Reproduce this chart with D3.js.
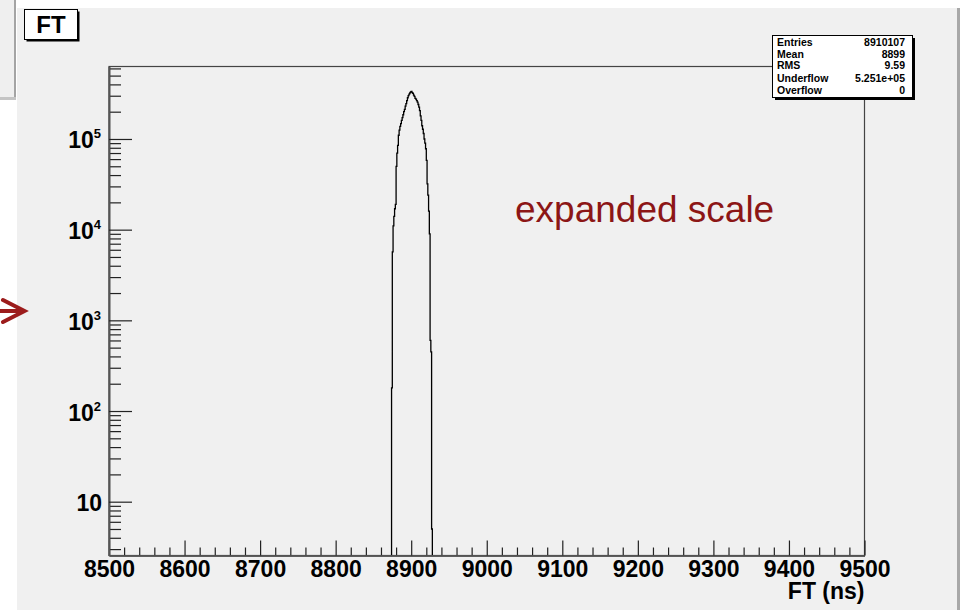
<!DOCTYPE html>
<html>
<head>
<meta charset="utf-8">
<script src="https://d3js.org/d3.v7.min.js"></script>
<title>FT</title>
<style>
  body { margin: 0; background: #fff; }
  svg { display: block; }
  text { font-family: "Liberation Sans", Arial, Helvetica, sans-serif; }
  .axis .tick text { font-weight: bold; font-size: 23px; fill: #000; }
  .axis .domain { stroke: #555; stroke-width: 1.6; }
  .axis .tick line { stroke: #222; stroke-width: 1.2; }
  .stats text { font-size: 10.5px; font-weight: bold; fill: #000; }
</style>
</head>
<body>
<svg width="963" height="610"></svg>
<script>
// histogram bins (1 ns wide)
const binStart = 8874;
const binWidth = 1;
const counts = [
  180, 5700, 11000, 14000, 17000, 19000, 50000, 70000, 85000, 110000,
  125000, 138000, 148000, 160000, 172000, 185000, 200000, 212000, 230000, 245000,
  265000, 285000, 300000, 312000, 322000, 330000, 335000, 325000, 318000, 305000,
  295000, 280000, 275000, 265000, 255000, 240000, 225000, 205000, 180000, 160000,
  140000, 128000, 115000, 100000, 90000, 78000, 58000, 32000, 24000, 16000,
  9000, 600, 450, 5
];

const xDomain = [8500, 9500];
const yDomain = [2.55, 630000];
const xTicks = [8500, 8600, 8700, 8800, 8900, 9000, 9100, 9200, 9300, 9400, 9500];
const yPowers = [1, 2, 3, 4, 5];

const statLabels = ['Entries', 'Mean', 'RMS', 'Underflow', 'Overflow'];
const statValues = ['8910107', '8899', '9.59', '5.251e+05', '0'];

const title = 'FT';
const xTitle = 'FT (ns)';
const note = 'expanded scale';

const frame = { left: 109, right: 864.5, top: 66.5, bottom: 555.5 };

const svg = d3.select('svg');

// page / canvas background
svg.append('rect').attr('x', 0).attr('y', 0).attr('width', 14).attr('height', 97).attr('fill', '#efefef');
svg.append('rect').attr('x', 14).attr('y', 0).attr('width', 2).attr('height', 100).attr('fill', '#a4a4a4');
svg.append('rect').attr('x', 0).attr('y', 97).attr('width', 16).attr('height', 3).attr('fill', '#c4c4c4');
svg.append('rect').attr('x', 17).attr('y', 8).attr('width', 940).attr('height', 602).attr('fill', '#f0f0f0');
svg.append('rect').attr('x', 957).attr('y', 8).attr('width', 3).attr('height', 602).attr('fill', '#a8a8a8');

const x = d3.scaleLinear().domain(xDomain).range([frame.left, frame.right]);
const y = d3.scaleLog().domain(yDomain).range([frame.bottom, frame.top]).clamp(true);

// frame
svg.append('rect')
    .attr('x', frame.left).attr('y', frame.top)
    .attr('width', frame.right - frame.left).attr('height', frame.bottom - frame.top)
    .attr('fill', 'none').attr('stroke', '#444').attr('stroke-width', 1.2);

svg.append('clipPath').attr('id', 'clip')
  .append('rect')
    .attr('x', frame.left).attr('y', frame.top)
    .attr('width', frame.right - frame.left).attr('height', frame.bottom - frame.top);

// histogram outline
const pts = [{ x: binStart, y: 0 }];
counts.forEach((c, i) => {
  const lo = binStart + i * binWidth;
  pts.push({ x: lo, y: c }, { x: lo + binWidth, y: c });
});
pts.push({ x: binStart + counts.length * binWidth, y: 0 });

const line = d3.line()
    .x(d => x(d.x))
    .y(d => y(Math.max(d.y, yDomain[0])));

svg.append('path')
    .datum(pts)
    .attr('clip-path', 'url(#clip)')
    .attr('fill', 'none')
    .attr('stroke', '#000')
    .attr('stroke-width', 1.3)
    .attr('d', line);

// x axis
const xMinor = d3.range(xDomain[0], xDomain[1] + 1, 20).filter(v => v % 100 !== 0);
svg.append('g').attr('class', 'axis')
    .attr('transform', `translate(0,${frame.bottom})`)
    .call(d3.axisBottom(x).tickValues(xMinor).tickSize(-8).tickSizeOuter(0).tickFormat(''));
svg.append('g').attr('class', 'axis')
    .attr('transform', `translate(0,${frame.bottom})`)
    .call(d3.axisBottom(x).tickValues(xTicks).tickSize(-15).tickSizeOuter(0)
      .tickPadding(5).tickFormat(d3.format('d')));

// y axis
const yMinor = [];
for (let p = 0; p <= 5; p++) {
  for (let m = 2; m <= 9; m++) {
    const v = m * Math.pow(10, p);
    if (v >= yDomain[0] && v <= yDomain[1]) yMinor.push(v);
  }
}
svg.append('g').attr('class', 'axis')
    .attr('transform', `translate(${frame.left},0)`)
    .call(d3.axisLeft(y).tickValues(yMinor).tickSize(-12).tickSizeOuter(0).tickFormat(''));
const yAxisG = svg.append('g').attr('class', 'axis')
    .attr('transform', `translate(${frame.left},0)`)
    .call(d3.axisLeft(y).tickValues(yPowers.map(p => Math.pow(10, p))).tickSize(-23)
      .tickSizeOuter(0).tickFormat(''));

yAxisG.selectAll('.tick').each(function (d) {
  const p = Math.round(Math.log10(d));
  const t = d3.select(this).append('text')
      .attr('text-anchor', 'end')
      .attr('x', p === 1 ? -7 : -8)
      .attr('y', 9);
  if (p === 1) {
    t.text('10');
  } else {
    t.append('tspan').text('10');
    t.append('tspan').attr('font-size', '13px').attr('dy', -10).text(p);
  }
});

// axis title
svg.append('text')
    .attr('x', frame.right).attr('y', 599)
    .attr('text-anchor', 'end')
    .attr('font-size', '23px').attr('font-weight', 'bold')
    .text(xTitle);

// title box
svg.append('rect').attr('x', 26.5).attr('y', 11.5).attr('width', 53).attr('height', 30).attr('fill', '#000');
svg.append('rect').attr('x', 24.5).attr('y', 9.5).attr('width', 53).attr('height', 30)
    .attr('fill', '#fff').attr('stroke', '#000').attr('stroke-width', 1);
svg.append('text')
    .attr('x', 51).attr('y', 33)
    .attr('text-anchor', 'middle')
    .attr('font-size', '24px').attr('font-weight', 'bold')
    .text(title);

// stats box
const box = { x: 772.5, y: 35.5, w: 140, h: 62 };
const stats = svg.append('g').attr('class', 'stats');
stats.append('rect').attr('x', box.x + 2.5).attr('y', box.y + 2.5).attr('width', box.w).attr('height', box.h).attr('fill', '#000');
stats.append('rect').attr('x', box.x).attr('y', box.y).attr('width', box.w).attr('height', box.h)
    .attr('fill', '#fff').attr('stroke', '#000').attr('stroke-width', 1);
const rowY = [46, 58, 69, 81.5, 94];
statLabels.forEach((lab, i) => {
  stats.append('text').attr('x', 777).attr('y', rowY[i]).text(lab);
  stats.append('text').attr('x', 905).attr('y', rowY[i]).attr('text-anchor', 'end').text(statValues[i]);
});

// annotation
svg.append('text')
    .attr('x', 515).attr('y', 222)
    .attr('font-size', '37px')
    .attr('fill', '#8c1616')
    .text(note);

// arrow at left
svg.append('path')
    .attr('d', 'M0,311 L22,311 M3,300 L24.5,311 L3,322')
    .attr('fill', 'none')
    .attr('stroke', '#9c1c1c')
    .attr('stroke-width', 4)
    .attr('stroke-linecap', 'round')
    .attr('stroke-linejoin', 'miter');
</script>
</body>
</html>
